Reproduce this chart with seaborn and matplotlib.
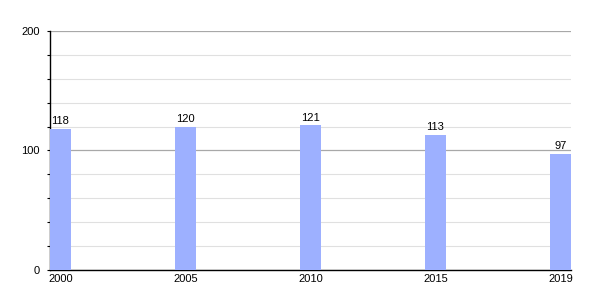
import matplotlib
matplotlib.use("Agg")
import matplotlib.pyplot as plt
import seaborn as sns
import pandas as pd
from matplotlib.ticker import MultipleLocator

years = ["2000", "2005", "2010", "2015", "2019"]
values = [118, 120, 121, 113, 97]

sns.set_theme(style="white")
plt.rcParams['font.family'] = ['Liberation Sans', 'DejaVu Sans']
plt.rcParams['text.color'] = 'black'
plt.rcParams['xtick.color'] = 'black'
plt.rcParams['ytick.color'] = 'black'

df = pd.DataFrame({"year": years, "value": values})

fig = plt.figure(figsize=(6, 3), dpi=100)
ax = fig.add_axes([0.0833, 0.1, 0.8684, 0.7967])

w = 0.168
sns.barplot(data=df, x="year", y="value", color="#9db0ff", saturation=1,
            width=w, ax=ax, zorder=3, edgecolor="none", linewidth=0)

ax.set_xlim(-w / 2, len(years) - 1 + w / 2)
ax.set_ylim(0, 200)
ax.yaxis.set_major_locator(MultipleLocator(100))
ax.yaxis.set_minor_locator(MultipleLocator(20))
ax.grid(which="major", axis="y", color="#a8a8a8", linewidth=0.9, zorder=1)
ax.grid(which="minor", axis="y", color="#e0e0e0", linewidth=0.8, zorder=1)
ax.grid(axis="x", visible=False)

for s in ["top", "right"]:
    ax.spines[s].set_visible(False)
for s in ["left", "bottom"]:
    ax.spines[s].set_color("black")
    ax.spines[s].set_linewidth(1.0)

ax.tick_params(axis="y", which="major", length=2.5, width=0.8, color="black",
               labelsize=8, labelcolor="black", pad=5, left=True)
ax.tick_params(axis="y", which="minor", length=2.5, width=0.8, color="black", left=True)
ax.tick_params(axis="x", length=0, labelsize=8, labelcolor="black", pad=3)
ax.set_xlabel("")
ax.set_ylabel("")

for c in ax.containers:
    ax.bar_label(c, labels=[str(v) for v in values], fontsize=8, padding=2,
                 color="black")

fig.savefig("out.png", dpi=100)
